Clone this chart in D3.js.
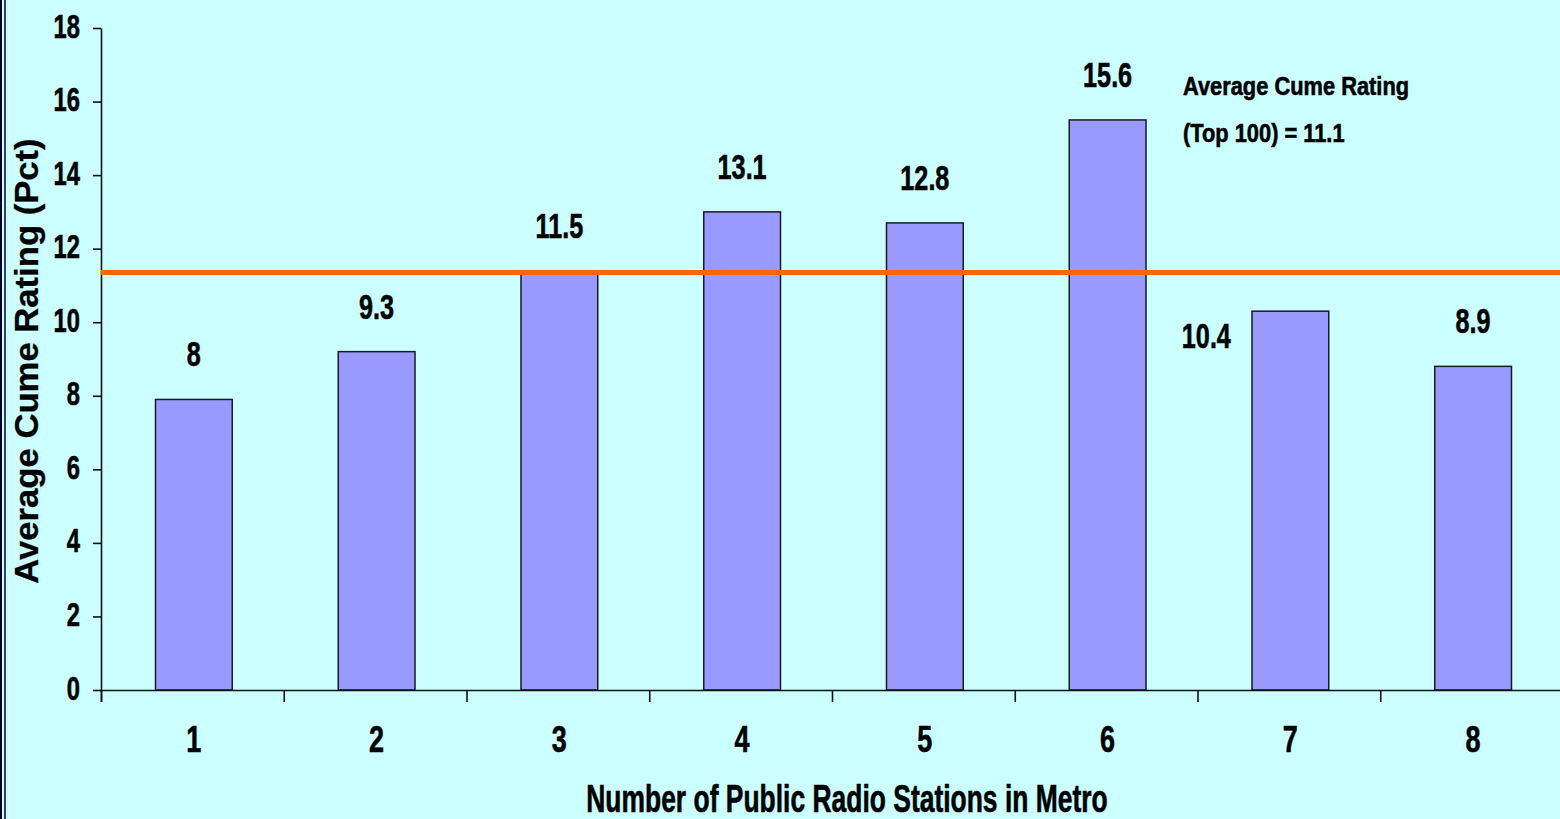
<!DOCTYPE html>
<html><head><meta charset="utf-8">
<script src="https://cdn.jsdelivr.net/npm/d3@7"></script>
<style>html,body{margin:0;padding:0;background:#CCFFFF;overflow:hidden}
text{font-family:"Liberation Sans",Arial,sans-serif;font-weight:bold;fill:#000;stroke:#000;stroke-width:0.6px}</style>
</head><body><svg id="chart" width="1560" height="819"></svg>
<script>
const categories = ["1","2","3","4","5","6","7","8"];
const values = [7.9, 9.2, 11.4, 13.0, 12.7, 15.5, 10.3, 8.8];
const valueLabels = ["8","9.3","11.5","13.1","12.8","15.6","10.4","8.9"];
const yTicks = [0,2,4,6,8,10,12,14,16,18];
const referenceValue = 11.35;
const referenceLabel = ["Average Cume Rating", "(Top 100) = 11.1"];
const xTitle = "Number of Public Radio Stations in Metro";
const yTitle = "Average Cume Rating (Pct)";

const W = 1560, H = 819;
const svg = d3.select("#chart");
svg.append("rect").attr("width", W).attr("height", H).attr("fill", "#CCFFFF");
// left frame lines
svg.append("line").attr("x1",1).attr("x2",1).attr("y1",0).attr("y2",H).attr("stroke","#000033").attr("stroke-width",2);
svg.append("line").attr("x1",5).attr("x2",5).attr("y1",0).attr("y2",H).attr("stroke","#000033").attr("stroke-width",1.5);

const x0 = 101, x1 = 1563, yBase = 690, yTop = 28;
const y = d3.scaleLinear().domain([0, 18]).range([yBase, yTop]);
const x = d3.scaleBand().domain(categories).range([x0, x1]).paddingInner(0.58).paddingOuter(0.29);
const xb = d3.scaleLinear().domain([0, categories.length]).range([x0, x1]);
const shift = 1.5;
const cx = d => x(d) + x.bandwidth() / 2 + shift;

// bars
svg.append("g").selectAll("rect").data(categories).join("rect")
  .attr("x", d => x(d) + shift)
  .attr("y", (d, i) => y(values[i]))
  .attr("width", x.bandwidth())
  .attr("height", (d, i) => y(0) - y(values[i]))
  .attr("fill", "#9999FF")
  .attr("stroke", "#1a1a1a")
  .attr("stroke-width", 1.5);

// y axis
const gy = svg.append("g").attr("transform", `translate(${x0},0)`)
  .call(d3.axisLeft(y).tickValues(yTicks).tickSize(8).tickSizeOuter(0).tickFormat(d3.format("d")));
gy.selectAll("path,line").attr("stroke", "#111").attr("stroke-width", 1.6);
gy.selectAll("text").attr("x", null).attr("dy", null)
  .attr("text-anchor", "end")
  .attr("transform", "translate(-21,9) scale(0.72,1)")
  .style("font-size", "33px");
gy.attr("font-family", null).attr("font-size", null);

// x axis boundary ticks + line
const gxb = svg.append("g").attr("transform", `translate(0,${yBase})`)
  .call(d3.axisBottom(xb).ticks(categories.length).tickSize(12).tickSizeOuter(12).tickFormat(""));
gxb.selectAll("path,line").attr("stroke", "#111").attr("stroke-width", 1.6);

// x labels
const gx = svg.append("g").attr("transform", `translate(${shift},${yBase})`)
  .call(d3.axisBottom(x).tickSize(0));
gx.select(".domain").remove();
gx.selectAll("text").attr("y", null).attr("dy", null)
  .attr("text-anchor", "middle")
  .attr("transform", "translate(0,62) scale(0.75,1)")
  .style("font-size", "36px");
gx.attr("font-family", null).attr("font-size", null);

// reference line
const yr = y(referenceValue);
svg.append("line").attr("x1", x0).attr("x2", W).attr("y1", yr).attr("y2", yr)
  .attr("stroke", "#FF6600").attr("stroke-width", 5);

// value labels
const labelFont = 36;
svg.append("g").selectAll("text").data(categories).join("text")
  .attr("text-anchor", "middle")
  .style("font-size", labelFont + "px")
  .attr("transform", (d, i) => {
    let lx = cx(d), ly = y(values[i]) - 33;
    // avoid collision with reference line: move label beside the bar
    if (ly > yr - 4 && ly - 26 < yr + 4) { lx = cx(d) - 84; ly = y(values[i]) + 37; }
    return `translate(${lx},${ly}) scale(0.7,1)`;
  })
  .text((d, i) => valueLabels[i]);

// reference annotation
svg.append("g").selectAll("text").data(referenceLabel).join("text")
  .attr("text-anchor", "start")
  .style("font-size", "26px")
  .attr("transform", (d, i) => `translate(1183,${95 + i * 47}) scale(0.84,1)`)
  .text(d => d);

// axis titles
svg.append("text").attr("text-anchor", "middle").style("font-size", "37px")
  .attr("transform", `translate(847,812) scale(0.715,1.04)`)
  .text(xTitle);
svg.append("text").attr("text-anchor", "middle").style("font-size", "33px").style("stroke-width", "0.3px")
  .attr("transform", "translate(38,361) rotate(-90) scale(1.05,1)")
  .text(yTitle);
</script></body></html>
